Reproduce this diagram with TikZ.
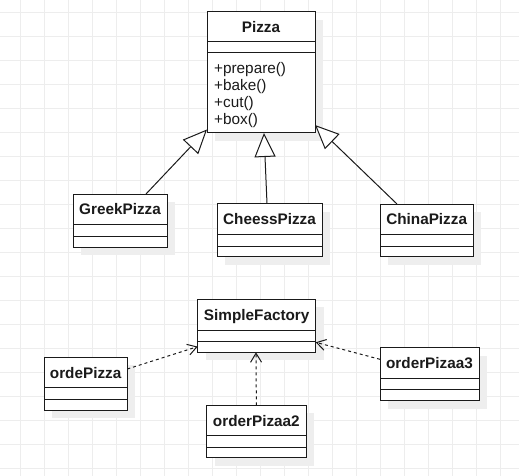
\documentclass[tikz,border=0pt]{standalone}
\usepackage{fontspec}
\setmainfont{Liberation Sans}
\usetikzlibrary{arrows.meta,calc}
\definecolor{gridc}{HTML}{EDEDED}
\definecolor{shadowc}{HTML}{EEEEEE}
\definecolor{inkc}{HTML}{1A1A1A}
% name, x1, y1, x2, y2, split1, split2, title
\newcommand\umlclassbox[8]{%
  \fill[shadowc] ({#2+8},{#3+8}) rectangle ({#4+8},{#5+8});
  \node[classbox, minimum width={(#4-#2)*1pt}, minimum height={(#5-#3)*1pt}] (#1) at (#2,#3) {};
  \draw[boxline] (#2,#6) -- (#4,#6);
  \draw[boxline] (#2,#7) -- (#4,#7);
  \node[classtitle] (#1-t) at ({(#2+#4)/2},{(#3+#6)/2+5.5}) {#8};
}
\begin{document}
\begin{tikzpicture}[x=1pt,y=-1pt,
  classbox/.style={draw=inkc, line width=1pt, fill=white, inner sep=0pt, outer sep=0pt, anchor=north west},
  boxline/.style={draw=inkc, line width=1pt},
  classtitle/.style={font=\fontsize{15.3}{17}\selectfont\bfseries, text=inkc, inner sep=0pt, anchor=base},
  meth/.style={font=\fontsize{15.3}{17}\selectfont, text=inkc, inner sep=0pt, anchor=base west},
  inherit/.style={draw=inkc, line width=1pt, -{Triangle[open, length=24pt, width=21pt, fill=white, line width=1pt]}},
  depend/.style={draw=inkc, line width=1pt, dash pattern=on 3pt off 3pt, -{Straight Barb[length=9pt, width=11pt, line width=1pt]}}
]
\useasboundingbox (0,0) rectangle (519,476);
\fill[white] (0,0) rectangle (519,476);
% grid
\foreach \i in {0,...,20} {\draw[gridc, line width=1pt] ({20.5+24*\i},0) -- ({20.5+24*\i},476);}
\foreach \j in {0,...,19} {\draw[gridc, line width=1pt] (0,{12.5+24*\j}) -- (519,{12.5+24*\j});}

% classes
\umlclassbox{pizza}{207}{12}{315}{133}{42}{53}{Pizza}
\node[meth] (m1) at (214,73.3) {+prepare()};
\node[meth] (m2) at (214,90.5) {+bake()};
\node[meth] (m3) at (214,107.7) {+cut()};
\node[meth] (m4) at (214,124.9) {+box()};

\umlclassbox{greek}{73}{194}{167}{247}{224}{236.5}{GreekPizza}
\umlclassbox{cheess}{217}{203.5}{322}{256.7}{234}{246}{CheessPizza}
\umlclassbox{china}{380}{204}{473.3}{256.7}{234}{246}{ChinaPizza}

\umlclassbox{factory}{197.7}{299.3}{315.7}{352.3}{330}{341.7}{SimpleFactory}
\umlclassbox{orde}{44}{357.3}{127.3}{410}{387.7}{399}{ordePizza}
\umlclassbox{order2}{206.7}{405.3}{306}{457.7}{435.7}{447.3}{orderPizaa2}
\umlclassbox{order3}{380}{347.7}{479}{400.7}{378.3}{389.3}{orderPizaa3}

% inheritance
\draw[inherit] ($(greek.north west)+(73,0)$) -- ($(pizza.south west)+(0,-3.5)$);
\draw[inherit] ($(cheess.north west)+(50,0)$) -- ($(pizza.south west)+(57,0)$);
\draw[inherit] ($(china.north west)+(17,0)$) -- ($(pizza.south east)+(0,-8)$);

% dependencies
\draw[depend] ($(orde.north east)+(0,11.7)$) -- ($(factory.south west)+(0,-5.7)$);
\draw[depend] (order2.north) -- ($(factory.south west)+(58.3,0)$);
\draw[depend] ($(order3.north west)+(0,11.6)$) -- ($(factory.south east)+(0,-10)$);
\end{tikzpicture}
\end{document}
